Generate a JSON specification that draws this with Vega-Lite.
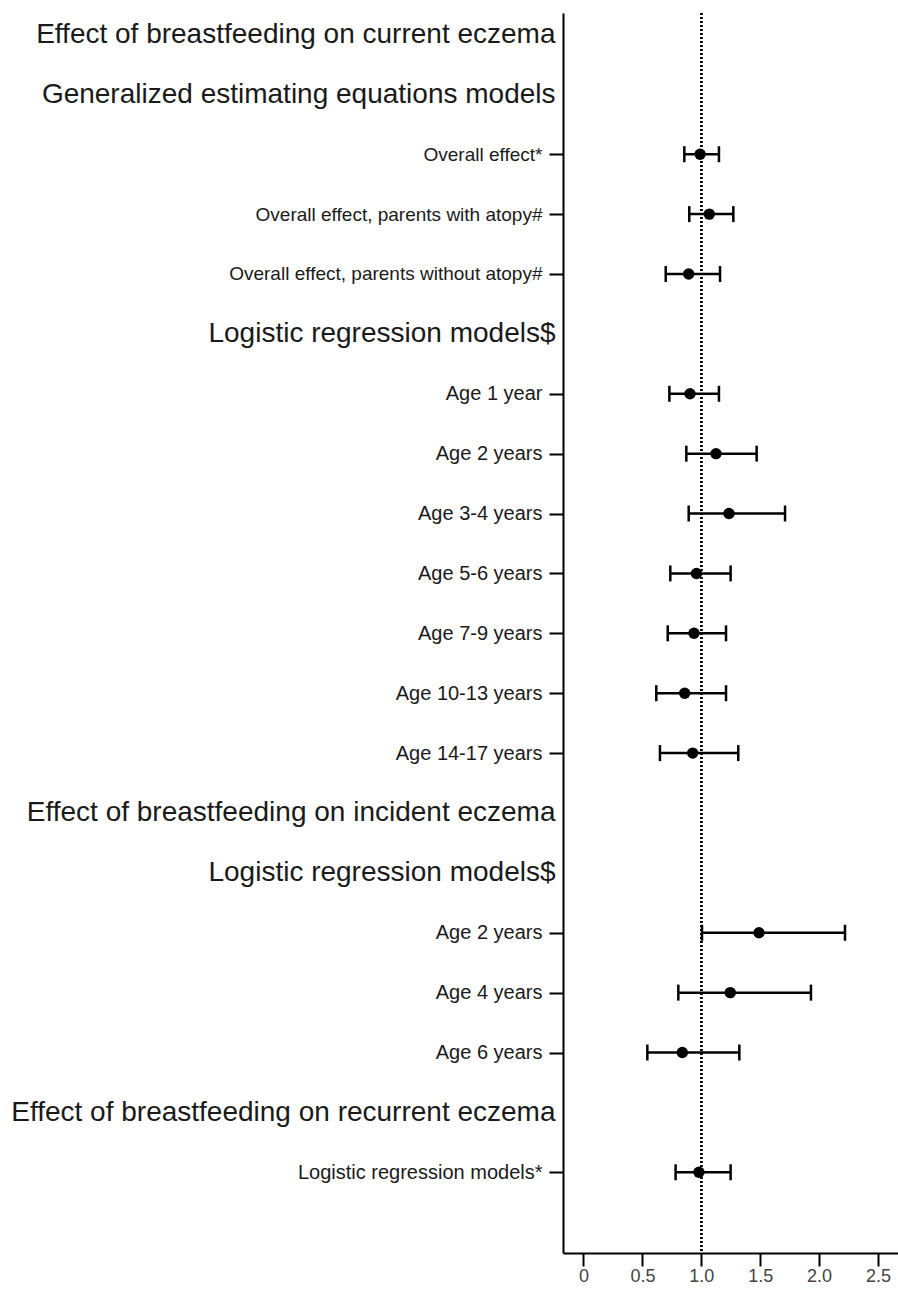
{
  "$schema": "https://vega.github.io/schema/vega-lite/v6.json",
  "width": 335,
  "height": 1240,
  "autosize": "none",
  "padding": {"left": 563, "top": 13, "right": 0, "bottom": 42},
  "background": "white",
  "config": {
    "view": {"stroke": null},
    "font": "Liberation Sans",
    "axisX": {
      "title": null,
      "grid": false,
      "domainColor": "black",
      "domainWidth": 2,
      "tickColor": "black",
      "tickWidth": 2,
      "tickSize": 13,
      "labelFont": "Liberation Sans",
      "labelFontSize": 18,
      "labelColor": "#444444",
      "labelPadding": 1
    }
  },
  "data": {
    "values": [
      {"label": "Effect of breastfeeding on current eczema"},
      {"label": "Generalized estimating equations models"},
      {"label": "Overall effect*", "est": 0.99, "lo": 0.856, "hi": 1.15},
      {"label": "Overall effect, parents with atopy#", "est": 1.068, "lo": 0.898, "hi": 1.272},
      {"label": "Overall effect, parents without atopy#", "est": 0.893, "lo": 0.698, "hi": 1.159},
      {"label": "Logistic regression models$"},
      {"label": "Age 1 year", "est": 0.904, "lo": 0.729, "hi": 1.15},
      {"label": "Age 2 years", "est": 1.125, "lo": 0.873, "hi": 1.47},
      {"label": "Age 3-4 years", "est": 1.235, "lo": 0.893, "hi": 1.711},
      {"label": "Age 5-6 years", "est": 0.959, "lo": 0.737, "hi": 1.249},
      {"label": "Age 7-9 years", "est": 0.938, "lo": 0.715, "hi": 1.21},
      {"label": "Age 10-13 years", "est": 0.859, "lo": 0.618, "hi": 1.21},
      {"label": "Age 14-17 years", "est": 0.927, "lo": 0.649, "hi": 1.314},
      {"label": "Effect of breastfeeding on incident eczema"},
      {"label": "Logistic regression models$\u200b"},
      {"label": "Age 2 years\u200b", "est": 1.49, "lo": 1.006, "hi": 2.22},
      {"label": "Age 4 years", "est": 1.246, "lo": 0.805, "hi": 1.931},
      {"label": "Age 6 years", "est": 0.839, "lo": 0.542, "hi": 1.323},
      {"label": "Effect of breastfeeding on recurrent eczema"},
      {"label": "Logistic regression models*", "est": 0.98, "lo": 0.782, "hi": 1.249}
    ]
  },
  "encoding": {
    "y": {
      "field": "label",
      "type": "ordinal",
      "sort": null,
      "scale": {"type": "point", "padding": 0.853, "align": 0.21},
      "axis": {
        "title": null,
        "grid": false,
        "domainColor": "black",
        "domainWidth": 2,
        "tickColor": "black",
        "tickWidth": 2,
        "tickSize": 14,
        "labelLimit": 1000,
        "labelColor": "#1a1a1a",
        "labelFont": "Liberation Sans",
        "labelPadding": {
          "condition": {"test": "indexof(datum.value, 'Effect of') === 0 || indexof(datum.value, 'Generalized') === 0 || indexof(datum.value, 'models$') >= 0", "value": -6},
          "value": 7
        },
        "tickOpacity": {
          "condition": {"test": "indexof(datum.value, 'Effect of') === 0 || indexof(datum.value, 'Generalized') === 0 || indexof(datum.value, 'models$') >= 0", "value": 0},
          "value": 1
        },
        "labelFontSize": {
          "condition": [
            {"test": "indexof(datum.value, 'Effect of') === 0 || indexof(datum.value, 'Generalized') === 0 || indexof(datum.value, 'models$') >= 0", "value": 28},
            {"test": "indexof(datum.value, 'Overall') === 0", "value": 19}
          ],
          "value": 20
        }
      }
    }
  },
  "layer": [
    {
      "mark": {"type": "point", "opacity": 0},
      "encoding": {}
    },
    {
      "mark": {"type": "rule", "strokeDash": [2, 2], "strokeWidth": 1.6, "color": "black"},
      "encoding": {"x": {"datum": 1, "type": "quantitative"}, "y": null}
    },
    {
      "mark": {"type": "rule", "strokeWidth": 2.5, "color": "black", "opacity": 1},
      "encoding": {
        "x": {
          "field": "lo",
          "type": "quantitative",
          "scale": {"domain": [-0.174, 2.67], "nice": false, "zero": false},
          "axis": {
            "values": [0, 0.5, 1, 1.5, 2, 2.5],
            "labelExpr": "datum.value == 0 ? '0' : format(datum.value, '.1f')"
          }
        },
        "x2": {"field": "hi"}
      }
    },
    {
      "mark": {"type": "tick", "thickness": 2.5, "size": 16, "color": "black", "opacity": 1},
      "encoding": {"x": {"field": "lo", "type": "quantitative"}}
    },
    {
      "mark": {"type": "tick", "thickness": 2.5, "size": 16, "color": "black", "opacity": 1},
      "encoding": {"x": {"field": "hi", "type": "quantitative"}}
    },
    {
      "mark": {"type": "circle", "size": 130, "color": "black", "opacity": 1},
      "encoding": {"x": {"field": "est", "type": "quantitative"}}
    }
  ]
}
